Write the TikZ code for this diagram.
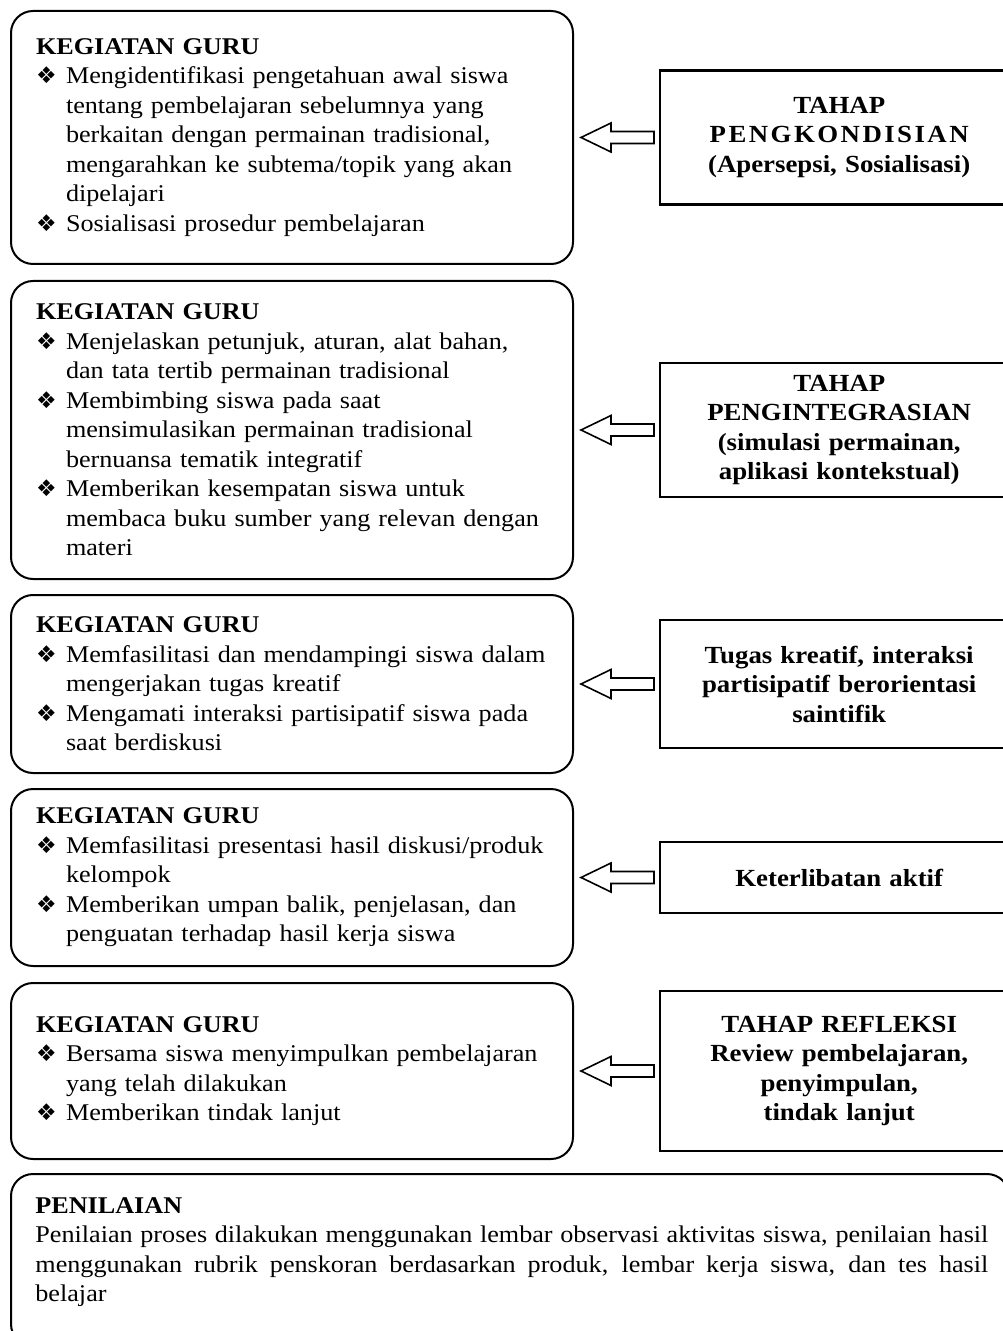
\documentclass[tikz,border=0pt]{standalone}
\usepackage{fontspec}
\setmainfont[FakeStretch=1.09]{Liberation Serif}
\newfontfamily\simbol{DejaVu Sans}
\usepackage{tikz}
\usetikzlibrary{positioning,calc}
\setlength{\parindent}{0pt}
\newcommand{\butir}{\hangindent=15pt\hangafter=1\noindent\makebox[15pt][l]{\fontsize{11.5pt}{10pt}\simbol ❖}}

\begin{document}
\begin{tikzpicture}
            \tikzstyle{guru}=[draw,rounded corners=11pt,line width=1pt,text width=256pt,inner xsep=12.5pt,align=left,font=\fontsize{12pt}{14.75pt}\selectfont]
            \tikzstyle{tahap}=[draw,line width=1.2pt,minimum width=179pt,text width=172pt,align=center,font=\bfseries\fontsize{12.3pt}{14.75pt}\selectfont]
            \tikzstyle{panah}=[draw,line width=0.8pt,fill=white,line join=miter]
            \useasboundingbox (0,0) rectangle (501pt,-665.5pt);

            \node[guru,minimum height=126.5pt,anchor=north west] (g1) at (5pt,-5pt) {\textbf{KEGIATAN GURU}\par
                \butir Mengidentifikasi pengetahuan awal siswa\newline tentang pembelajaran sebelumnya yang\newline berkaitan dengan permainan tradisional,\newline mengarahkan ke subtema/topik yang akan\newline dipelajari\par
                \butir Sosialisasi prosedur pembelajaran\par};
            \node[guru,minimum height=149pt] (g2) [below=7.5pt of g1] {\textbf{KEGIATAN GURU}\par
                \butir Menjelaskan petunjuk, aturan, alat bahan,\newline dan tata tertib permainan tradisional\par
                \butir Membimbing siswa pada saat\newline mensimulasikan permainan tradisional\newline bernuansa tematik integratif\par
                \butir Memberikan kesempatan siswa untuk\newline membaca buku sumber yang relevan dengan\newline materi\par};
            \node[guru,minimum height=89pt] (g3) [below=7pt of g2] {\textbf{KEGIATAN GURU}\par
                \butir Memfasilitasi dan mendampingi siswa dalam\newline mengerjakan tugas kreatif\par
                \butir Mengamati interaksi partisipatif siswa pada\newline saat berdiskusi\par};
            \node[guru,minimum height=88.5pt] (g4) [below=7pt of g3] {\textbf{KEGIATAN GURU}\par
                \butir Memfasilitasi presentasi hasil diskusi/produk\newline kelompok\par
                \butir Memberikan umpan balik, penjelasan, dan\newline penguatan terhadap hasil kerja siswa\par};
            \node[guru,minimum height=88pt] (g5) [below=7.5pt of g4] {\textbf{KEGIATAN GURU}\par
                \butir Bersama siswa menyimpulkan pembelajaran\newline yang telah dilakukan\par
                \butir Memberikan tindak lanjut\par};
            \node[guru,minimum width=499pt,minimum height=86pt,below=6.5pt of g5.south west,anchor=north west] (pen) {};
            \node[anchor=north west,inner sep=0pt,text width=476.5pt,align=justify,font=\fontsize{12pt}{14.75pt}\selectfont] (pentext) at ($(pen.north west)+(12.5pt,-12pt)$) {\textbf{PENILAIAN}\par
                Penilaian proses dilakukan menggunakan lembar observasi aktivitas siswa, penilaian hasil\linebreak menggunakan rubrik penskoran berdasarkan produk, lembar kerja siswa, dan tes hasil\linebreak belajar\par};

            \node[tahap,minimum height=67pt] (t1) [right=42.5pt of g1] {TAHAP\\{\addfontfeature{LetterSpace=10}PENGKONDISIAN}\\(Apersepsi, Sosialisasi)};
            \node[tahap,minimum height=67pt] (t2) [right=42.5pt of g2] {TAHAP\\PENGINTEGRASIAN\\(simulasi permainan,\\aplikasi kontekstual)};
            \node[tahap,minimum height=64pt] (t3) [right=42.5pt of g3] {Tugas kreatif, interaksi\\partisipatif berorientasi\\saintifik};
            \node[tahap,minimum height=35.5pt] (t4) [right=42.5pt of g4] {Keterlibatan aktif};
            \node[tahap,minimum height=80pt] (t5) [right=42.5pt of g5] {TAHAP REFLEKSI\\Review pembelajaran,\\penyimpulan,\\tindak lanjut};

            \draw[panah] ($(t1.west)+(-2.5pt,3pt)$) -- ++(-21.5pt,0) -- ++(0,4.25pt) -- ($(t1.west -| g1.east)+(3.5pt,0)$) -- ($(t1.west)+(-24pt,-7.25pt)$) -- ++(0,4.25pt) -- ($(t1.west)+(-2.5pt,-3pt)$) -- cycle;
            \draw[panah] ($(t2.west)+(-2.5pt,3pt)$) -- ++(-21.5pt,0) -- ++(0,4.25pt) -- ($(t2.west -| g2.east)+(3.5pt,0)$) -- ($(t2.west)+(-24pt,-7.25pt)$) -- ++(0,4.25pt) -- ($(t2.west)+(-2.5pt,-3pt)$) -- cycle;
            \draw[panah] ($(t3.west)+(-2.5pt,3pt)$) -- ++(-21.5pt,0) -- ++(0,4.25pt) -- ($(t3.west -| g3.east)+(3.5pt,0)$) -- ($(t3.west)+(-24pt,-7.25pt)$) -- ++(0,4.25pt) -- ($(t3.west)+(-2.5pt,-3pt)$) -- cycle;
            \draw[panah] ($(t4.west)+(-2.5pt,3pt)$) -- ++(-21.5pt,0) -- ++(0,4.25pt) -- ($(t4.west -| g4.east)+(3.5pt,0)$) -- ($(t4.west)+(-24pt,-7.25pt)$) -- ++(0,4.25pt) -- ($(t4.west)+(-2.5pt,-3pt)$) -- cycle;
            \draw[panah] ($(t5.west)+(-2.5pt,3pt)$) -- ++(-21.5pt,0) -- ++(0,4.25pt) -- ($(t5.west -| g5.east)+(3.5pt,0)$) -- ($(t5.west)+(-24pt,-7.25pt)$) -- ++(0,4.25pt) -- ($(t5.west)+(-2.5pt,-3pt)$) -- cycle;
        \end{tikzpicture}
\end{document}
